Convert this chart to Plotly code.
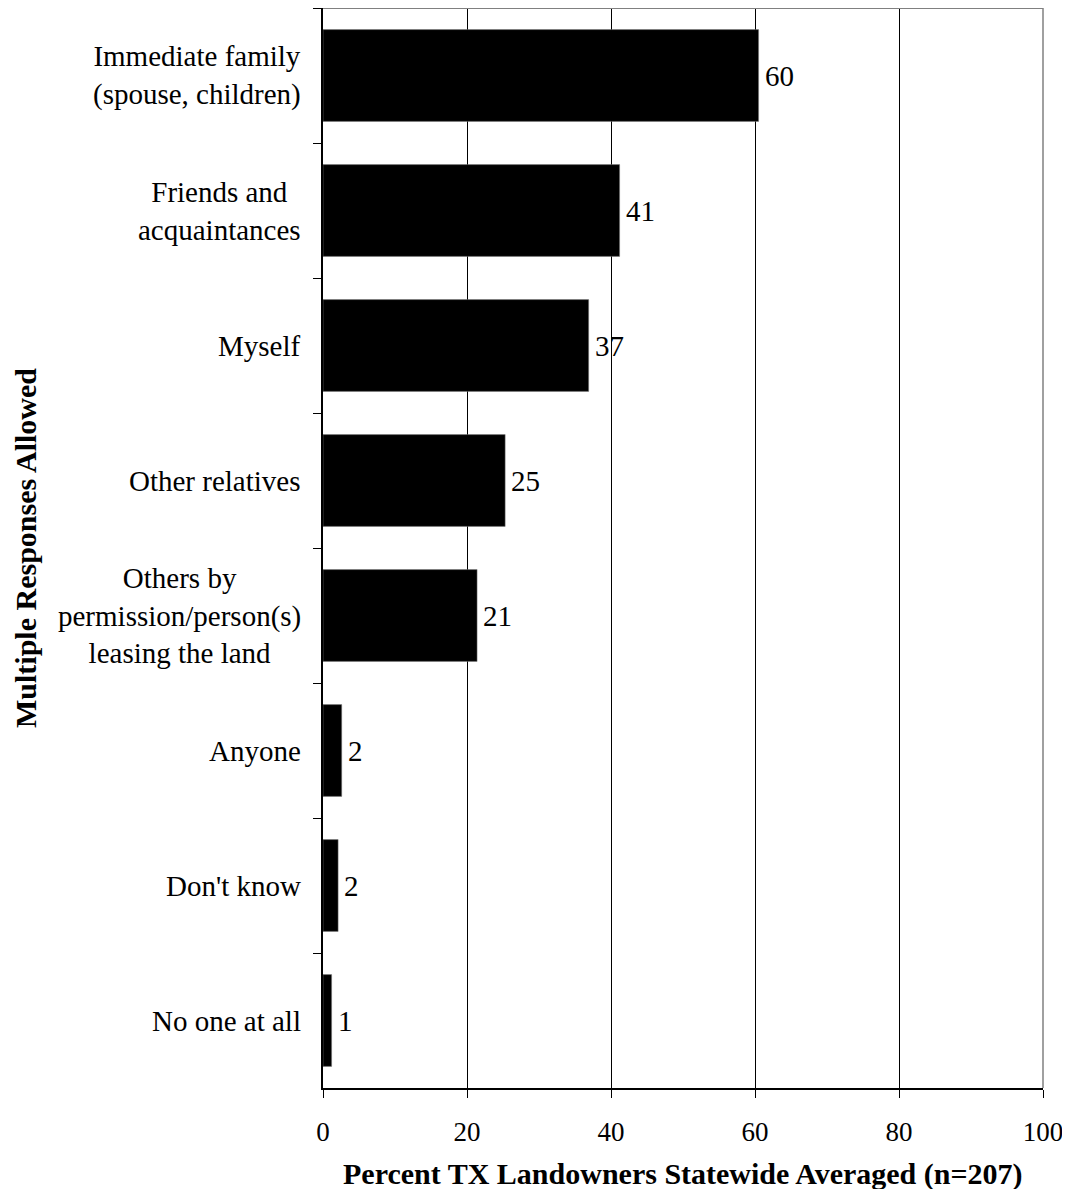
import plotly.graph_objects as go

categories = [
    "Immediate family<br>(spouse, children)",
    "Friends and<br>acquaintances",
    "Myself",
    "Other relatives",
    "Others by<br>permission/person(s)<br>leasing the land",
    "Anyone",
    "Don't know",
    "No one at all",
]
values = [60.5, 41.2, 36.9, 25.3, 21.4, 2.6, 2.1, 1.2]
value_labels = ["60", "41", "37", "25", "21", "2", "2", "1"]
x_ticks = [0, 20, 40, 60, 80, 100]

FONT = "Liberation Serif, Times New Roman, serif"
FS = 29
FS_TICK = 27
FS_TITLE = 30

fig = go.Figure()
fig.add_trace(go.Bar(
    x=values, y=categories, orientation="h",
    marker=dict(color="black", line=dict(color="#808080", width=0.5)),
    hoverinfo="skip",
))

annotations = []
for c, v, t in zip(categories, values, value_labels):
    annotations.append(dict(x=v, y=c, xref="x", yref="y", text=t, showarrow=False,
                            xanchor="left", yanchor="middle", xshift=4,
                            font=dict(family=FONT, size=FS, color="black")))
    annotations.append(dict(x=0, y=c, xref="paper", yref="y", text=c, showarrow=False,
                            xanchor="right", yanchor="middle", xshift=-20, align="center",
                            font=dict(family=FONT, size=FS, color="black")))

annotations.append(dict(x=0, y=0.5, xref="paper", yref="paper", xanchor="center", yanchor="middle",
                        xshift=-298, textangle=-90, showarrow=False,
                        text="<b>Multiple Responses Allowed</b>",
                        font=dict(family=FONT, size=FS_TITLE, color="black")))
annotations.append(dict(x=0.5, y=0, xref="paper", yref="paper", xanchor="center", yanchor="middle",
                        yshift=-86, showarrow=False,
                        text="<b>Percent TX Landowners Statewide Averaged (n=207)</b>",
                        font=dict(family=FONT, size=FS_TITLE, color="black")))

fig.update_layout(
    width=1062, height=1181,
    margin=dict(l=315, r=27, t=0, b=101),
    paper_bgcolor="white", plot_bgcolor="white",
    bargap=0.32,
    showlegend=False,
    annotations=annotations,
    font=dict(family=FONT, size=FS, color="black"),
    shapes=[
        dict(type="line", xref="paper", yref="paper", x0=0, x1=1, y0=1, y1=1,
             line=dict(color="#808080", width=2)),
        dict(type="line", xref="paper", yref="paper", x0=1, x1=1, y0=0, y1=1,
             line=dict(color="#808080", width=1.5)),
    ],
)
fig.update_xaxes(
    range=[0, 100], tickvals=x_ticks, ticktext=[str(v) for v in x_ticks],
    showgrid=True, gridcolor="black", gridwidth=1,
    showline=True, linecolor="black", linewidth=1.5,
    ticks="outside", ticklen=8, tickcolor="black", tickwidth=1,
    tickfont=dict(family=FONT, size=FS_TICK, color="black"),
    ticklabelstandoff=11, zeroline=False,
)
fig.update_yaxes(
    autorange="reversed", type="category", tickson="boundaries",
    showticklabels=False, showgrid=False,
    showline=True, linecolor="black", linewidth=1.5,
    ticks="outside", ticklen=8, tickcolor="black", tickwidth=1,
)

fig.write_html("out.html")
